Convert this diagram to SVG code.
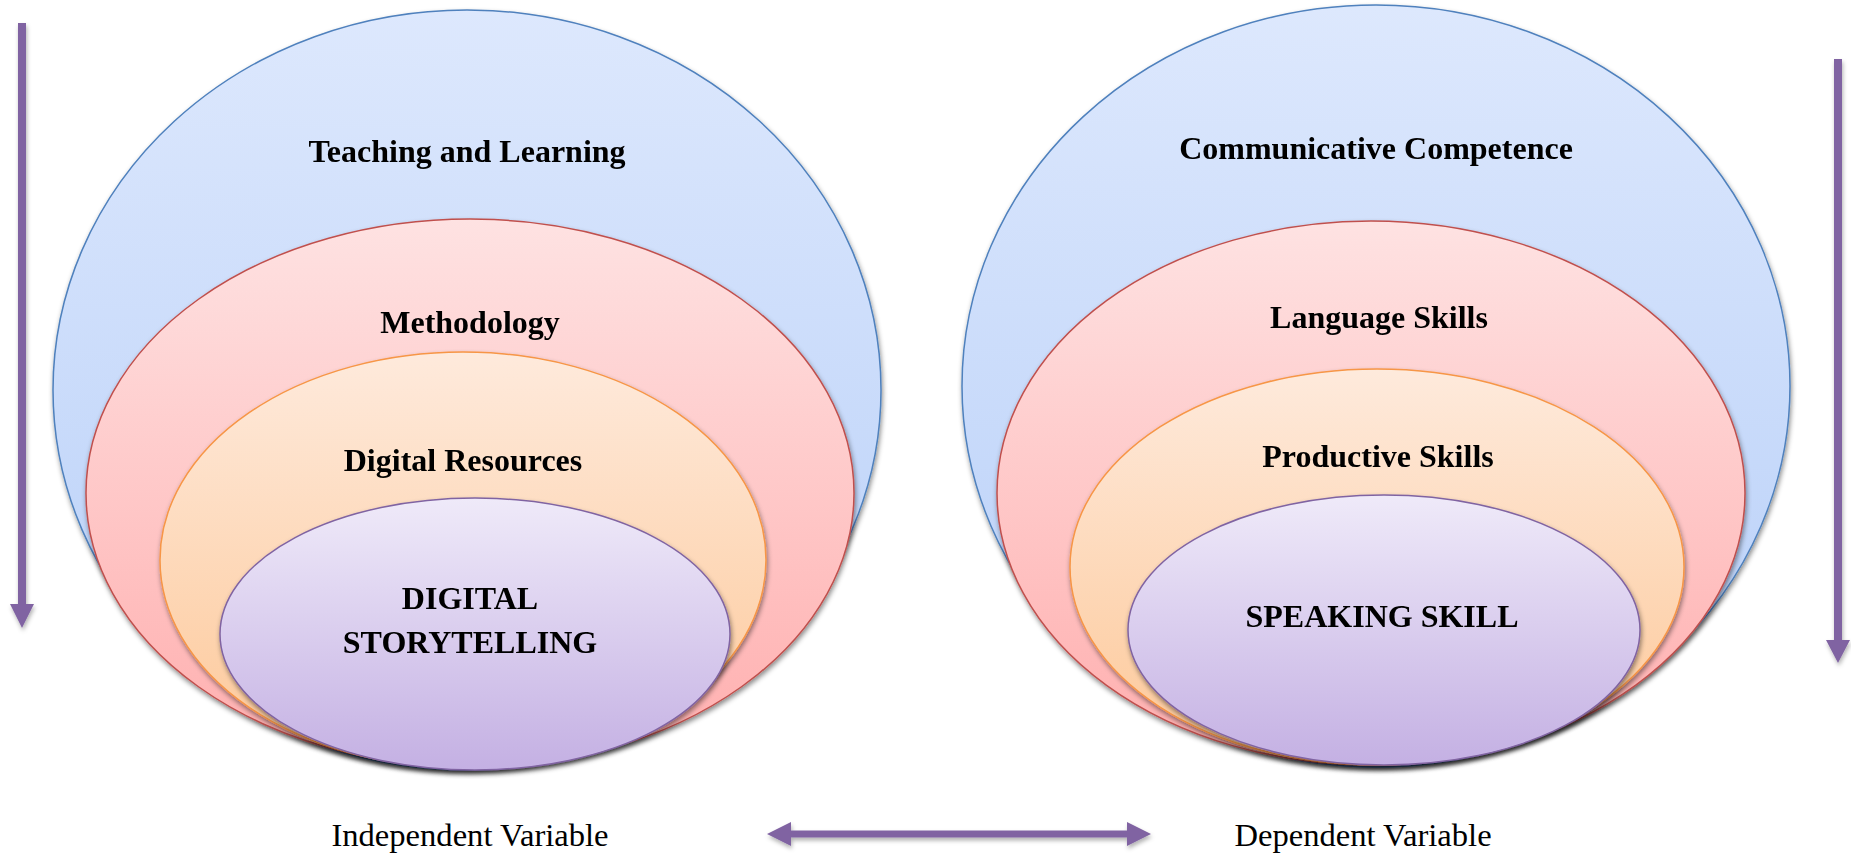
<svg xmlns="http://www.w3.org/2000/svg" width="1851" height="856" viewBox="0 0 1851 856">
  <defs>
    <linearGradient id="gBlue" x1="0" y1="0" x2="0" y2="1">
      <stop offset="0" stop-color="#dde8fd"/>
      <stop offset="1" stop-color="#b7cff8"/>
    </linearGradient>
    <linearGradient id="gRed" x1="0" y1="0" x2="0" y2="1">
      <stop offset="0" stop-color="#fee2e2"/>
      <stop offset="1" stop-color="#ffaeae"/>
    </linearGradient>
    <linearGradient id="gOrange" x1="0" y1="0" x2="0" y2="1">
      <stop offset="0" stop-color="#feeadc"/>
      <stop offset="1" stop-color="#fdc898"/>
    </linearGradient>
    <linearGradient id="gPurple" x1="0" y1="0" x2="0" y2="1">
      <stop offset="0" stop-color="#efeaf9"/>
      <stop offset="1" stop-color="#c4b0e3"/>
    </linearGradient>
    <filter id="shadow" x="-10%" y="-10%" width="120%" height="125%">
      <feDropShadow dx="1" dy="3" stdDeviation="2.5" flood-color="#000" flood-opacity="0.45"/>
    </filter>
    <filter id="arrowShadow" x="-20%" y="-50%" width="140%" height="200%">
      <feDropShadow dx="1" dy="3" stdDeviation="2" flood-color="#000" flood-opacity="0.3"/>
    </filter>
  </defs>
  <style>
    .blue { fill: url(#gBlue); stroke: #4f81bd; stroke-width: 1.5; }
    .red { fill: url(#gRed); stroke: #c0504d; stroke-width: 1.5; }
    .orange { fill: url(#gOrange); stroke: #f79646; stroke-width: 1.5; }
    .purple { fill: url(#gPurple); stroke: #8064a2; stroke-width: 1.5; }
    .ring { filter: url(#shadow); }
    .lbl { font-family: "Liberation Serif", "Times New Roman", serif; font-weight: bold; font-size: 32px; fill: #000; text-anchor: middle; }
    .cap { font-family: "Liberation Serif", "Times New Roman", serif; font-size: 32.6px; fill: #000; text-anchor: middle; }
    .arrow { fill: #8064a2; filter: url(#arrowShadow); }
  </style>

  <rect width="1851" height="856" fill="#fff"/>

  <!-- Independent variable: nested levels -->
  <g id="teaching-learning" class="ring">
    <ellipse class="blue" cx="467" cy="390" rx="414" ry="380"/>
    <text class="lbl" x="467" y="162">Teaching and Learning</text>
  </g>
  <g id="methodology" class="ring">
    <ellipse class="red" cx="470" cy="493" rx="384" ry="274"/>
    <text class="lbl" x="470" y="333">Methodology</text>
  </g>
  <g id="digital-resources" class="ring">
    <ellipse class="orange" cx="463" cy="560" rx="303" ry="208"/>
    <text class="lbl" x="463" y="471">Digital Resources</text>
  </g>
  <g id="digital-storytelling" class="ring">
    <ellipse class="purple" cx="475" cy="634" rx="255" ry="136"/>
    <text class="lbl" x="470" y="609">DIGITAL</text>
    <text class="lbl" x="470" y="653">STORYTELLING</text>
  </g>

  <!-- Dependent variable: nested levels -->
  <g id="communicative-competence" class="ring">
    <ellipse class="blue" cx="1376" cy="386" rx="414" ry="381"/>
    <text class="lbl" x="1376" y="159">Communicative Competence</text>
  </g>
  <g id="language-skills" class="ring">
    <ellipse class="red" cx="1371" cy="493" rx="374" ry="272"/>
    <text class="lbl" x="1379" y="328">Language Skills</text>
  </g>
  <g id="productive-skills" class="ring">
    <ellipse class="orange" cx="1377" cy="567" rx="307" ry="198"/>
    <text class="lbl" x="1378" y="467">Productive Skills</text>
  </g>
  <g id="speaking-skill" class="ring">
    <ellipse class="purple" cx="1384" cy="630" rx="256" ry="135"/>
    <text class="lbl" x="1382" y="627">SPEAKING SKILL</text>
  </g>

  <!-- Captions -->
  <g id="independent-variable">
    <text class="cap" x="470" y="846">Independent Variable</text>
  </g>
  <g id="dependent-variable">
    <text class="cap" x="1363" y="846">Dependent Variable</text>
  </g>

  <!-- Connectors -->
  <g id="connectors">
    <path class="arrow" d="M18 23 H26 V604 H34 L22 628 L10 604 H18 Z"/>
    <path class="arrow" d="M1834 59 H1842 V640 H1850 L1838 663 L1826 640 H1834 Z"/>
    <path class="arrow" d="M767 834 L791 822 V830.5 H1127 V822 L1151 834 L1127 846 V837.5 H791 V846 Z"/>
  </g>
</svg>
